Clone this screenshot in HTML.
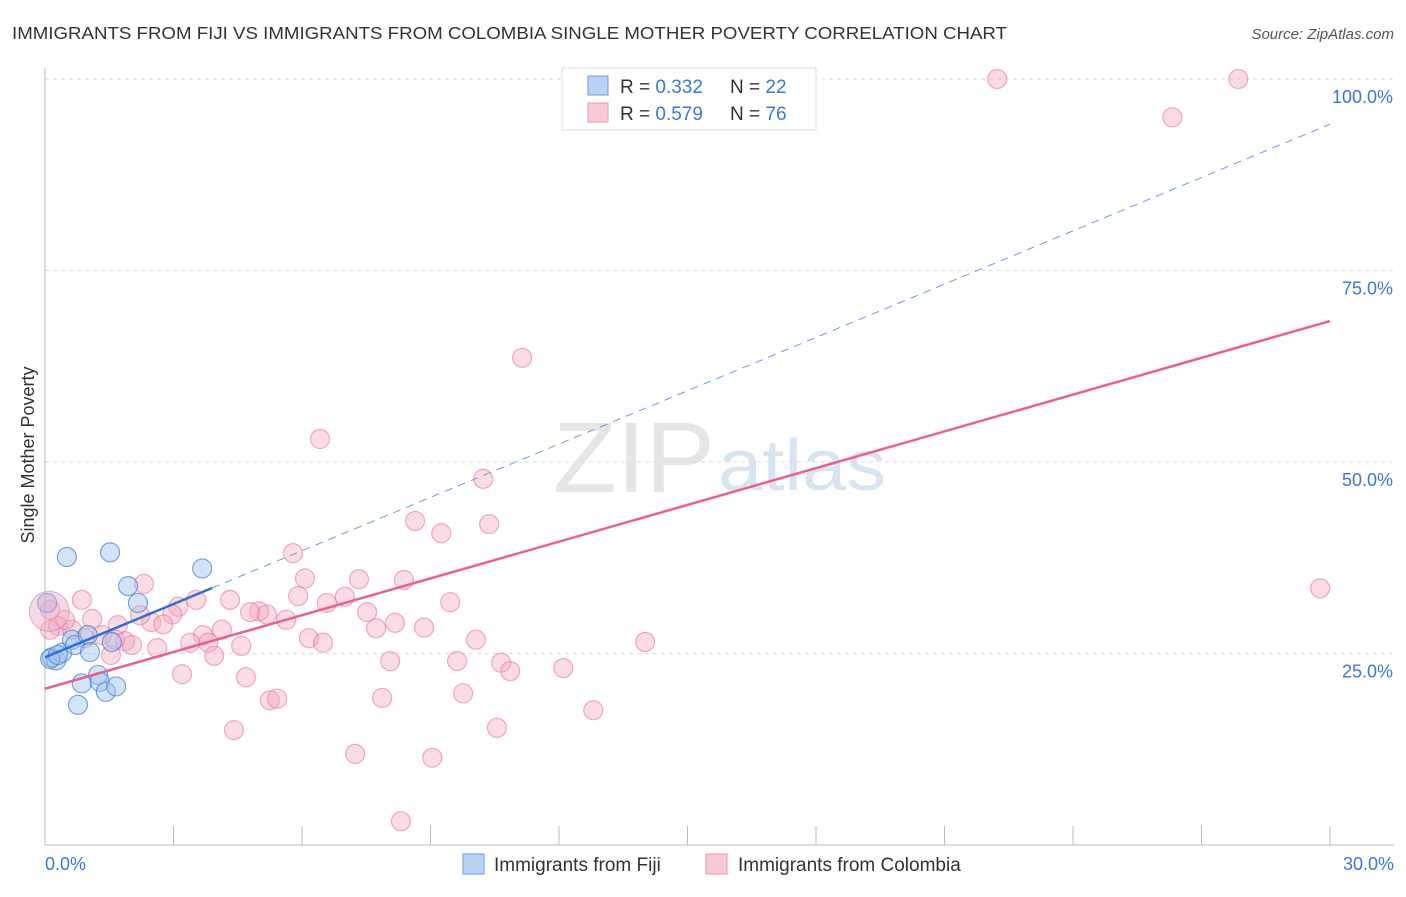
<!DOCTYPE html>
<html><head><meta charset="utf-8"><style>
body{margin:0;background:#fff;font-family:"Liberation Sans",sans-serif;}
svg text{font-family:"Liberation Sans",sans-serif;}
</style></head><body>
<svg id="chart" width="1406" height="892" xmlns="http://www.w3.org/2000/svg">
<text x="12" y="39" font-size="17.5" fill="#333" textLength="995" lengthAdjust="spacingAndGlyphs">IMMIGRANTS FROM FIJI VS IMMIGRANTS FROM COLOMBIA SINGLE MOTHER POVERTY CORRELATION CHART</text>
<text x="1394" y="39" font-size="15" fill="#555" text-anchor="end" font-style="italic">Source: ZipAtlas.com</text>
<text x="553" y="492" font-size="100" fill="#e6e6e6" font-family="Liberation Serif" textLength="162" lengthAdjust="spacingAndGlyphs">ZIP</text>
<text x="718" y="490" font-size="72" fill="#d8e4f2" textLength="168" lengthAdjust="spacingAndGlyphs">atlas</text>
<text transform="translate(34,455) rotate(-90)" font-size="18" fill="#333" text-anchor="middle">Single Mother Poverty</text>
<g id="grid"></g><g id="axes"></g><g id="marks"></g><g id="trend"></g>
<g>
<rect x="562" y="68" width="254" height="62" fill="#fff" stroke="#ddd"/>
<rect x="588" y="76" width="20" height="19" fill="#b8d3f5" stroke="#6d9be0"/>
<rect x="588" y="103" width="20" height="19" fill="#f9c9d6" stroke="#ea9ab2"/>
<text x="620" y="93" font-size="19" fill="#333">R = <tspan fill="#3a78d8">0.332</tspan></text>
<text x="730" y="93" font-size="19" fill="#333">N = <tspan fill="#3a78d8">22</tspan></text>
<text x="620" y="120" font-size="19" fill="#333">R = <tspan fill="#3a78d8">0.579</tspan></text>
<text x="730" y="120" font-size="19" fill="#333">N = <tspan fill="#3a78d8">76</tspan></text>
</g>
<g>
<rect x="463" y="854" width="21" height="20" fill="#b8d3f5" stroke="#6d9be0"/>
<text x="494" y="871" font-size="19" fill="#333">Immigrants from Fiji</text>
<rect x="706" y="854" width="21" height="20" fill="#f9c9d6" stroke="#ea9ab2"/>
<text x="738" y="871" font-size="19" fill="#333">Immigrants from Colombia</text>
</g>
</svg>
<script>
const yTicks=[25,50,75,100];
const yTickLabels=["25.0%","50.0%","75.0%","100.0%"];
const xTickLabels=["0.0%","30.0%"];
const fijiX=[0.05,0.16,0.26,0.40,0.51,0.63,0.70,0.77,0.86,1.00,1.05,1.24,1.28,1.42,1.52,1.56,1.66,1.94,2.17,3.67,0.12,0.30];
const fijiY=[31.6,24.5,24.1,25.1,37.6,26.8,26.1,18.3,21.1,27.4,25.2,22.2,21.3,20.0,38.2,26.5,20.7,33.8,31.6,36.1,24.3,24.8];
const colX=[22.23,27.86,26.32,11.14,6.42,10.23,8.64,10.37,9.25,5.79,6.07,7.33,8.38,2.31,0.86,5.91,7.0,3.53,9.46,3.11,6.58,5.0,4.79,5.18,7.52,2.97,1.10,2.48,2.76,5.63,8.17,0.30,1.70,7.73,8.85,0.12,0.63,4.13,3.69,1.33,10.06,6.16,14.01,1.87,3.39,2.62,6.49,3.81,2.03,4.58,1.54,3.95,8.06,9.62,10.65,10.86,12.10,3.20,4.69,9.76,7.87,5.25,5.42,12.80,4.41,10.55,7.24,9.04,8.31,29.77,0.47,0.93,2.22,4.32,1.63,0.12];
const colY=[100,100,95.0,63.6,53.0,47.8,42.3,41.9,40.7,38.1,34.8,34.7,34.6,34.1,32.0,32.5,32.4,32.0,31.7,31.1,31.6,30.5,30.4,30.1,30.4,30.1,29.5,29.1,28.8,29.4,29.0,28.6,28.7,28.3,28.4,28.1,28.1,28.1,27.4,27.4,26.8,27.0,26.5,26.6,26.4,25.7,26.4,26.4,26.1,26.0,24.8,24.7,24.0,24.0,23.8,22.7,23.1,22.3,21.9,19.8,19.2,18.9,19.1,17.6,15.0,15.3,11.9,11.4,3.1,33.5,29.4,27.0,30.0,32.0,26.8,30.7];
const fijiTrend=[24.5,94.1];
const colTrend=[20.4,68.4];
const NS="http://www.w3.org/2000/svg";
const sx=v=>45+v/30*1285, sy=v=>845-v/100*766;
function mk(t,a,p){const e=document.createElementNS(NS,t);for(const k in a)e.setAttribute(k,a[k]);p.appendChild(e);return e;}
const grid=document.getElementById('grid'),axes=document.getElementById('axes'),marks=document.getElementById('marks'),trend=document.getElementById('trend');
yTicks.forEach((t,i)=>{
 const l=mk('line',{x1:45,x2:1394,y1:sy(t),y2:sy(t),stroke:'#ddd','stroke-dasharray':'4,4'},grid);
 
 
 const tx=mk('text',{x:1393,y:sy(t)+24,'font-size':18,fill:'#3a78d8','text-anchor':'end'},axes);
 tx.textContent=yTickLabels[i];
 
 
});
mk('line',{x1:45,x2:45,y1:68,y2:845,stroke:'#bbb'},axes);
mk('line',{x1:45,x2:1394,y1:845,y2:845,stroke:'#bbb'},axes);
for(let i=0;i<=10;i++){mk('line',{x1:sx(i*3),x2:sx(i*3),y1:826,y2:845,stroke:'#bbb'},axes);}
[[0,'start',45],[1,'end',1394]].forEach(([i,a,x])=>{const t=mk('text',{x:x,y:870,'font-size':18,fill:'#3a78d8','text-anchor':a},axes);t.textContent=xTickLabels[i];
 
 });
colX.forEach((x,i)=>{const c=mk('circle',{cx:sx(x),cy:sy(colY[i]),r:9.5,fill:'rgba(244,164,188,0.4)',stroke:'rgba(230,120,155,0.6)','stroke-width':1.2},marks);
 
 });
fijiX.forEach((x,i)=>{const c=mk('circle',{cx:sx(x),cy:sy(fijiY[i]),r:9.5,fill:'rgba(160,196,240,0.45)',stroke:'rgba(70,130,215,0.7)','stroke-width':1.2},marks);
 
 });
const big=mk('circle',{cx:sx(0.1),cy:sy(30.5),r:20,fill:'rgba(230,170,200,0.45)',stroke:'rgba(200,130,170,0.6)'},marks);


const fy=x=>fijiTrend[0]+(fijiTrend[1]-fijiTrend[0])*x/30, cy=x=>colTrend[0]+(colTrend[1]-colTrend[0])*x/30;
const fd=mk('line',{x1:sx(3.9),y1:sy(fy(3.9)),x2:sx(30),y2:sy(fy(30)),stroke:'#6d9be0','stroke-width':1,'stroke-dasharray':'8,6'},trend);


const fs=mk('line',{x1:sx(0),y1:sy(fy(0)),x2:sx(3.9),y2:sy(fy(3.9)),stroke:'#2f6fd6','stroke-width':2.5},trend);


const cl=mk('line',{x1:sx(0),y1:sy(cy(0)),x2:sx(30),y2:sy(cy(30)),stroke:'#e8628e','stroke-width':2.5},trend);


</script>
</body></html>
